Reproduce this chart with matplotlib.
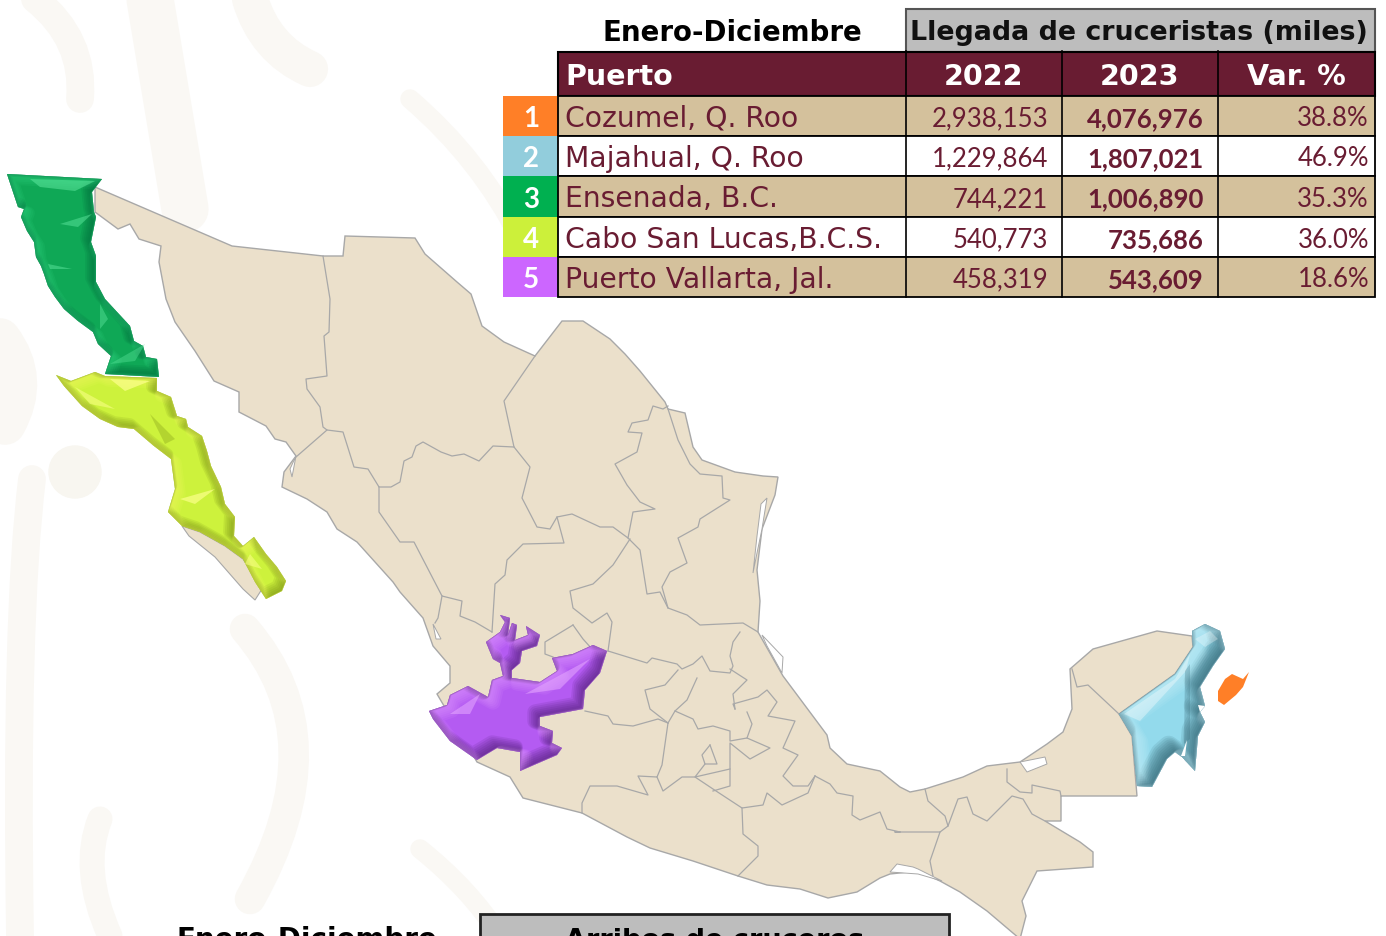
import matplotlib
matplotlib.use('Agg')
import matplotlib.pyplot as plt
from matplotlib.patches import Polygon, Rectangle, PathPatch
from matplotlib.path import Path
import numpy as np

# table values
puertos = ['Cozumel, Q. Roo', 'Majahual, Q. Roo', 'Ensenada, B.C.', 'Cabo San Lucas,B.C.S.', 'Puerto Vallarta, Jal.']
lleg_2022 = [2938153, 1229864, 744221, 540773, 458319]
lleg_2023 = [4076976, 1807021, 1006890, 735686, 543609]
var_pct = [38.8, 46.9, 35.3, 36.0, 18.6]
ranking = ['1', '2', '3', '4', '5']
rank_colors = ['#FF7F27', '#92CDDC', '#00B050', '#CCF03A', '#CC66FF']

# map outlines (pixels of the reference)
mexico = [(95,188),(232,247),(323,257),(343,257),(345,237),(415,239),(425,255),(457,283),(471,295),(482,327),
          (504,343),(535,357),(562,322),(583,322),(610,340),(625,355),(640,372),(665,403),(668,410),(685,414),
          (693,448),(702,461),(735,473),(763,477),(778,478),(775,496),(762,530),(757,571),(760,602),(758,633),
          (783,677),(827,736),(830,749),(847,765),(880,772),(900,788),(910,793),(925,790),(963,778),(987,767),
          (1020,763),(1047,745),(1063,733),(1072,710),(1070,670),(1093,650),(1157,632),(1192,637),(1193,648),
          (1175,675),(1119,715),(1132,737),(1137,797),(1061,797),(1061,822),(1045,822),(1080,843),(1093,853),
          (1093,868),(1037,872),(1022,902),(1026,917),(1020,940),(987,912),(960,893),(940,882),(918,872),
          (890,875),(880,879),(857,893),(828,899),(800,890),(767,886),(738,877),(693,862),(650,849),(627,838),
          (582,814),(523,799),(510,778),(477,763),(437,695),(450,684),(450,667),(433,647),(423,619),(400,593),
          (393,583),(357,543),(337,530),(327,513),(307,500),(282,488),(284,473),(296,457),(286,443),(275,440),
          (266,427),(239,413),(239,393),(214,382),(195,352),(175,323),(166,300),(159,263),(161,247),(139,240),
          (130,225),(118,230),(95,213)]
baja_sur_tail = [(182,527),(200,533),(225,547),(243,560),(262,590),(255,601),(243,590),(215,558),(189,537)]
lagoons = [[(1020,763),(1045,758),(1047,765),(1027,773)],
           [(890,873),(897,865),(913,868),(918,870),(942,882),(918,875)],
           [(761,505),(767,499),(762,530),(757,554),(753,574),(757,537)],
           [(762,636),(783,658),(782,674),(767,647)],
           [(290,470),(296,457),(292,478)],
           [(433,625),(441,640),(436,640)]]
state_borders = [
    [(323,257),(330,300),(329,333),(324,337),(327,377),(306,380),(307,390),(320,408),(323,428),(327,431),(296,458)],
    [(327,431),(343,433),(354,468),(368,470),(379,488),(391,488),(400,483),(404,462),(412,458),(416,447),(423,443),
     (441,453),(452,457),(464,455),(479,462),(493,447),(514,448)],
    [(535,357),(504,402),(514,448),(530,468),(522,499),(537,528),(550,530),(557,518),(572,515),(600,528),(613,528),
     (628,539),(633,513),(655,510),(640,503),(627,486),(615,465),(637,453),(642,434),(628,433),(632,424),(648,421),
     (653,407),(663,410),(668,407)],
    [(628,539),(640,551),(647,595),(660,593),(668,609),(687,616),(700,626),(743,624),(758,633)],
    [(668,410),(678,441),(690,465),(700,475),(722,477),(723,499),(730,501),(700,520),(698,528),(678,539),(687,564),
     (670,573),(662,588),(668,609)],
    [(379,488),(379,513),(400,543),(414,543),(442,597),(462,602),(460,617),(475,623),(492,633)],
    [(442,597),(438,619),(435,624)],
    [(557,518),(564,544),(523,545),(507,561),(505,576),(495,585),(492,633)],
    [(630,540),(613,566),(593,585),(570,592),(573,609),(592,624),(607,614),(612,623),(608,652)],
    [(608,652),(647,664),(652,659),(677,665),(682,670),(693,665),(702,657),(710,672),(730,674),(733,667),(730,657),
     (733,643),(740,633)],
    [(678,671),(665,686),(645,691),(650,710),(668,724)],
    [(697,679),(687,701),(675,712),(668,724)],
    [(585,712),(608,717),(613,725),(633,727),(658,720),(668,724),(662,766),(657,778),(638,777),(648,796),(617,787),
     (590,787),(582,804),(582,814)],
    [(657,778),(663,792),(682,778),(695,778),(713,790),(742,809),(763,806),(767,794),(782,806),(808,794),(815,777)],
    [(742,809),(743,835),(758,847),(758,857),(738,877)],
    [(815,777),(830,785),(837,794),(853,797),(852,816),(860,821),(880,813),(887,830),(900,833),(895,833),(940,833),
     (930,862),(933,877)],
    [(675,712),(693,720),(698,730),(713,727),(730,732),(730,742),(747,739),(770,749),(750,760),(730,744),(730,787),
     (713,792)],
    [(735,710),(733,705),(758,698),(767,691),(777,703),(768,717),(795,722),(783,749),(798,756),(783,777),(793,787),
     (808,787),(815,777)],
    [(747,713),(752,725),(747,739)],
    [(735,710),(733,695),(747,681),(730,670)],
    [(710,746),(702,756),(705,765),(695,778),(730,770)],
    [(705,765),(717,765),(710,746)],
    [(573,626),(545,643),(545,655),(553,658)],
    [(573,626),(583,640),(592,650)],
    [(925,790),(928,802),(945,817),(948,827),(940,833)],
    [(948,827),(958,800),(967,798),(973,815),(987,822),(1012,797),(1023,800),(1032,815),(1045,822)],
    [(1007,770),(1007,783),(1020,793),(1032,794),(1032,786),(1060,792),(1061,797)],
    [(1072,670),(1077,688),(1088,686),(1119,715)],
]
baja_california = [(7,175),(102,180),(92,193),(94,213),(96,218),(91,243),(96,257),(96,283),(105,300),(130,327),
                   (134,342),(143,347),(146,358),(157,360),(159,378),(105,375),(111,357),(98,345),(93,333),(78,322),
                   (64,310),(55,298),(48,287),(44,275),(41,267),(36,258),(34,243),(27,232),(21,218),(24,210),(18,208)]
baja_california_sur = [(56,376),(71,382),(95,373),(105,377),(157,379),(157,392),(171,398),(177,417),(186,420),(188,428),
                       (202,437),(207,452),(211,467),(221,488),(225,505),(235,518),(234,537),(243,547),(254,538),
                       (266,555),(277,568),(286,582),(282,592),(266,600),(255,583),(243,560),(225,547),(200,533),
                       (182,527),(168,513),(175,490),(171,460),(154,447),(134,430),(118,428),(100,420),(82,407),(64,387)]
jalisco = [(429,712),(447,706),(450,696),(468,687),(488,698),(492,681),(503,677),(500,664),(493,660),(486,643),
           (500,633),(505,623),(500,616),(510,619),(508,636),(512,624),(517,626),(515,641),(528,636),(526,627),
           (540,636),(537,647),(522,652),(520,664),(512,671),(512,679),(540,683),(557,672),(552,659),(573,655),
           (593,646),(607,652),(600,674),(585,691),(583,710),(540,718),(540,727),(553,732),(552,744),(562,749),
           (557,756),(520,772),(520,753),(497,749),(477,761),(450,742),(433,720)]
quintana_roo = [(1119,715),(1175,675),(1193,648),(1192,632),(1205,625),(1220,632),(1225,650),(1213,667),(1200,688),
                (1205,707),(1200,713),(1205,723),(1198,737),(1195,772),(1182,758),(1175,753),(1167,760),(1152,788),
                (1137,787),(1132,737)]
cozumel = [(1249,673),(1243,680),(1232,675),(1225,680),(1218,692),(1218,702),(1224,706),(1236,696),(1243,688)]
qroo_gaps = [[(1181,757),(1187,741),(1185,757)], [(1198,706),(1205,707),(1200,713)]]

# lighter and darker planes on the raised states: (outline, colour, alpha)
facets = [
    ([(1124,715),(1175,680),(1190,655),(1186,672),(1140,722)], 'white', 0.35),
    ([(1185,672),(1190,665),(1190,740),(1184,745)], '#3F6F7E', 0.30),
    ([(1195,640),(1210,632),(1218,640),(1205,648)], 'white', 0.30),
    ([(30,180),(95,182),(75,192),(40,188)], '#5CE59C', 0.55),
    ([(60,225),(92,215),(78,228)], '#5CE59C', 0.50),
    ([(48,265),(72,270),(50,270)], '#5CE59C', 0.50),
    ([(100,305),(108,320),(100,330)], '#5CE59C', 0.45),
    ([(110,365),(145,345),(135,362)], '#5CE59C', 0.40),
    ([(110,380),(150,382),(125,392)], '#FBFF8A', 0.75),
    ([(180,500),(215,490),(195,505)], '#FBFF8A', 0.70),
    ([(75,388),(115,410),(90,405)], '#FBFF8A', 0.55),
    ([(150,415),(175,440),(165,445)], '#8CA81C', 0.40),
    ([(250,555),(262,570),(245,565)], '#FBFF8A', 0.55),
    ([(450,715),(480,695),(470,715)], '#E6A8FF', 0.55),
    ([(525,695),(590,660),(560,690)], '#E6A8FF', 0.55),
]

# faint background emblem
emblem_strokes = [
    ([(150,0),(165,90),(185,210)], 34),
    ([(35,0),(85,40),(80,100)], 20),
    ([(250,0),(265,50),(310,70)], 26),
    ([(0,340),(30,380),(5,425)], 30),
    ([(20,937),(15,620),(32,480)], 20),
    ([(245,630),(340,740),(250,900)], 22),
    ([(100,820),(80,870),(110,937)], 18),
    ([(420,850),(470,890),(500,937)], 14),
    ([(410,100),(480,160),(520,240)], 14),
]
emblem_circle = (75, 473, 26)

BURGUNDY = '#691C32'
TAN = '#D4C19C'
GREY = '#BDBDBD'
MAP_FILL = '#EBE0CB'
MAP_LINE = '#A8A8A8'
EMBLEM = '#FAF8F4'

fig = plt.figure(figsize=(13.86, 9.37), dpi=100)
ax = fig.add_axes([0, 0, 1, 1])
ax.set_xlim(0, 1386)
ax.set_ylim(937, 0)
ax.axis('off')


def bevel(points, base, dark, light, z, depth=6):
    # flat polygon plus strokes clipped to it, so the state looks raised
    pts = np.array(points, dtype=float)
    shape = Polygon(pts, closed=True, facecolor=base, edgecolor='none', zorder=z)
    ax.add_patch(shape)
    for i in range(depth, 0, -1):
        for col, sgn in ((dark, -1), (light, 1)):
            ring = Polygon(pts + sgn * 0.7 * i, closed=True, fill=False, edgecolor=col,
                           linewidth=1.6 * i, alpha=0.13, joinstyle='round', zorder=z + 0.1)
            ax.add_patch(ring)
            ring.set_clip_path(shape)
    return shape


# background
for pts, w in emblem_strokes:
    curve = Path(pts, [Path.MOVETO, Path.CURVE3, Path.CURVE3])
    ax.add_patch(PathPatch(curve, fill=False, edgecolor=EMBLEM, linewidth=w, capstyle='round', zorder=0))
ax.add_patch(plt.Circle(emblem_circle[:2], emblem_circle[2], color='#F8F6F0', zorder=0))

# map
ax.add_patch(Polygon(mexico, closed=True, facecolor=MAP_FILL, edgecolor=MAP_LINE, linewidth=1.0, zorder=2))
ax.add_patch(Polygon(baja_sur_tail, closed=True, facecolor=MAP_FILL, edgecolor=MAP_LINE, linewidth=0.8, zorder=2))
for lag in lagoons:
    ax.add_patch(Polygon(lag, closed=True, facecolor='white', edgecolor=MAP_LINE, linewidth=0.7, zorder=2.2))
for line in state_borders:
    xs, ys = zip(*line)
    ax.plot(xs, ys, color=MAP_LINE, lw=0.9, zorder=2.1)

bevel(baja_california, '#0FA856', '#00663A', '#2FD07E', 3)
bevel(baja_california_sur, '#CDF23C', '#6E8410', '#F0FA60', 3)
bevel(jalisco, '#B45BF2', '#4A1C70', '#DE94FF', 3, depth=7)
bevel(quintana_roo, '#93DAEC', '#2F5F6E', '#C2EEF8', 3, depth=9)
for pts, col, al in facets:
    ax.add_patch(Polygon(pts, closed=True, facecolor=col, edgecolor='none', alpha=al, zorder=3.3))
for gap in qroo_gaps:
    ax.add_patch(Polygon(gap, closed=True, facecolor='white', edgecolor='none', zorder=3.4))
ax.add_patch(Polygon(cozumel, closed=True, facecolor='#FF7F27', edgecolor='none', zorder=3))

# table
col_x = [558, 906, 1062, 1218, 1375]
row_y = [97, 137, 177, 218, 258, 298]
head_font = 'DejaVu Sans'
num_font = 'Lato'

ax.add_patch(Rectangle((906, 9.5), 469, 43, facecolor=GREY, edgecolor='#555555', linewidth=1.5, zorder=5))
ax.add_patch(Rectangle((558, 52.5), 817, 44.5, facecolor=BURGUNDY, edgecolor='black', linewidth=1.5, zorder=5))
ax.text(732, 33, 'Enero-Diciembre', ha='center', va='center', fontsize=19.9, fontweight='bold',
        family=head_font, color='black', zorder=7)
ax.text(1139, 33, 'Llegada de cruceristas (miles)', ha='center', va='center', fontsize=19.4, fontweight='bold',
        family=head_font, color='#111111', zorder=7)
ax.text(565, 77, 'Puerto', ha='left', va='center', fontsize=20.5, fontweight='bold', family=head_font,
        color='white', zorder=7)
for i, h in enumerate(['2022', '2023', 'Var. %']):
    ax.text((col_x[i + 1] + col_x[i + 2]) / 2, 77, h, ha='center', va='center', fontsize=20.5, fontweight='bold',
            family=head_font, color='white', zorder=7)
for xv in col_x[1:-1]:
    ax.plot([xv, xv], [52, 97], color='black', lw=1.2, zorder=6)

for i, name in enumerate(puertos):
    top, bot = row_y[i], row_y[i + 1]
    mid = (top + bot) / 2
    ax.add_patch(Rectangle((503, top), 55, bot - top, facecolor=rank_colors[i], edgecolor='none', zorder=5))
    ax.add_patch(Rectangle((558, top), 817, bot - top, facecolor=TAN if i % 2 == 0 else 'white',
                           edgecolor='black', linewidth=1.3, zorder=5))
    for xv in col_x[1:-1]:
        ax.plot([xv, xv], [top, bot], color='black', lw=1.2, zorder=6)
    ax.text(531, mid + 2, ranking[i], ha='center', va='center', fontsize=20, fontweight='bold', family=num_font,
            color='white', zorder=7)
    ax.text(565, mid + 2, name, ha='left', va='center', fontsize=20.3, family=head_font, color=BURGUNDY, zorder=7)
    ax.text(1048, mid + 2, f'{lleg_2022[i]:,}', ha='right', va='center', fontsize=18.5, family=num_font,
            color=BURGUNDY, zorder=7)
    ax.text(1204, mid + 2, f'{lleg_2023[i]:,}', ha='right', va='center', fontsize=18.5, fontweight='bold',
            family=num_font, color=BURGUNDY, zorder=7)
    ax.text(1369, mid + 2, f'{var_pct[i]:.1f}%', ha='right', va='center', fontsize=18.5, family=num_font,
            color=BURGUNDY, zorder=7)

# second table, cut by the bottom of the slide
ax.add_patch(Rectangle((480, 915), 469, 60, facecolor=GREY, edgecolor='#222222', linewidth=2, zorder=5, clip_on=True))
ax.text(715, 948, 'Arribos de cruceros', ha='center', va='baseline', fontsize=19.5, fontweight='bold',
        family=head_font, color='black', zorder=7)
ax.text(307, 948, 'Enero-Diciembre', ha='center', va='baseline', fontsize=20, fontweight='bold',
        family=head_font, color='black', zorder=7)

plt.savefig('out.png', dpi=100)
